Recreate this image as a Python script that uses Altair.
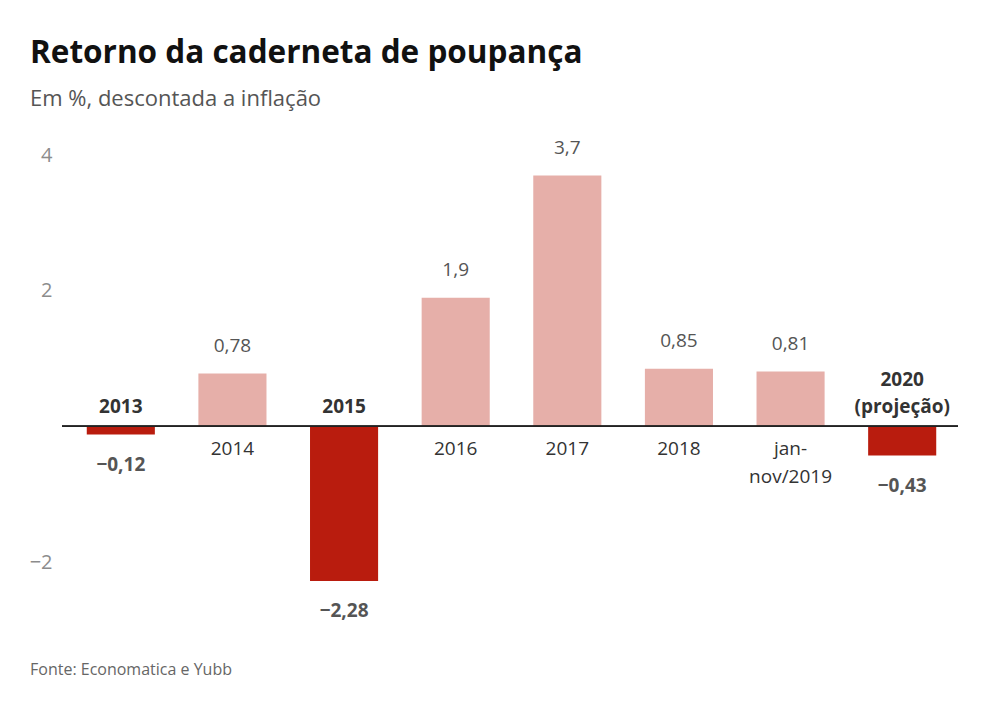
import altair as alt
import pandas as pd

# Real return of the savings account, % after inflation
categories = ["2013", "2014", "2015", "2016", "2017", "2018", "jan-nov/2019", "2020 (projeção)"]
category_lines = [["2013"], ["2014"], ["2015"], ["2016"], ["2017"], ["2018"],
                  ["jan-", "nov/2019"], ["2020", "(projeção)"]]
values = [-0.12, 0.78, -2.28, 1.9, 3.7, 0.85, 0.81, -0.43]
y_ticks = [-2, 2, 4]

title_text = "Retorno da caderneta de poupança"
subtitle_text = "Em %, descontada a inflação"
source_text = "Fonte: Economatica e Yubb"


def br_number(v):
    return str(v).replace(".", ",").replace("-", "\u2212")


df = pd.DataFrame({
    "cat": categories,
    "value": values,
    "label": [br_number(v) for v in values],
    "zero": [0] * len(values),
})
df["sign"] = ["neg" if v < 0 else "pos" for v in values]

# One row per category-label line; k counts lines outward from the zero line
rows = []
for cat, lines, v in zip(categories, category_lines, values):
    ordered = list(reversed(lines)) if v < 0 else lines
    for k, line in enumerate(ordered):
        rows.append({"cat": cat, "line": line, "k": k, "zero": 0,
                     "sign": "neg" if v < 0 else "pos"})
lines_df = pd.DataFrame(rows)

FONT = "Open Sans"
PX_PER_UNIT = 67.8
Y_MIN, Y_MAX = -2.8, 4.2
W = 893
H = (Y_MAX - Y_MIN) * PX_PER_UNIT
TOP = 141.7

x_enc = alt.X("cat:N", sort=categories, axis=None,
              scale=alt.Scale(paddingInner=0.39, paddingOuter=0.195))
y_scale = alt.Scale(domain=[Y_MIN, Y_MAX], nice=False, zero=False)

base = alt.Chart(df).encode(x=x_enc)

bars = base.mark_bar().encode(
    y=alt.Y("value:Q", scale=y_scale,
            axis=alt.Axis(values=y_ticks, format="d", title=None, grid=False,
                          domain=False, ticks=False, labelPadding=13,
                          labelFontSize=20, labelColor="#8c8c8c", labelFont=FONT)),
    y2=alt.Y2("zero:Q"),
    color=alt.Color("sign:N", scale=alt.Scale(domain=["neg", "pos"],
                                               range=["#b91c0e", "#e6afa9"]),
                    legend=None),
)

zero_line = alt.Chart(df).mark_rule(color="#222222", strokeWidth=1.2).encode(
    x=alt.value(-3), x2=alt.value(W), y=alt.Y("zero:Q", scale=y_scale)
)

pos_values = base.transform_filter(alt.datum.value > 0).mark_text(
    font=FONT, fontSize=19, color="#555555", baseline="alphabetic", dy=-22
).encode(y=alt.Y("value:Q", scale=y_scale), text="label:N")

neg_values = base.transform_filter(alt.datum.value < 0).mark_text(
    font=FONT, fontSize=19, fontWeight="bold", color="#555555", baseline="top", dy=21
).encode(y=alt.Y("value:Q", scale=y_scale), text="label:N")

# Category names: below the zero line for gains, above it (bold) for losses
cat_layers = []
for k in range(2):
    cat_layers.append(
        alt.Chart(lines_df).transform_filter(
            (alt.datum.sign == "pos") & (alt.datum.k == k)
        ).mark_text(font=FONT, fontSize=19, color="#333333", baseline="top",
                    dy=14 + 28 * k).encode(
            x=x_enc, y=alt.Y("zero:Q", scale=y_scale), text="line:N")
    )
    cat_layers.append(
        alt.Chart(lines_df).transform_filter(
            (alt.datum.sign == "neg") & (alt.datum.k == k)
        ).mark_text(font=FONT, fontSize=19, fontWeight="bold", color="#333333",
                    baseline="alphabetic", dy=-13.5 - 27 * k).encode(
            x=x_enc, y=alt.Y("zero:Q", scale=y_scale), text="line:N")
    )

# Heading, subheading and source line placed relative to the plot origin
titles = pd.DataFrame({
    "t": [title_text, subtitle_text, source_text],
    "k": ["title", "subtitle", "source"],
})
title_mark = alt.Chart(titles).transform_filter(alt.datum.k == "title").mark_text(
    font=FONT, fontSize=31.5, fontWeight="bold", color="#111111", align="left",
    baseline="alphabetic").encode(x=alt.value(-35), y=alt.value(63 - TOP), text="t:N")
subtitle_mark = alt.Chart(titles).transform_filter(alt.datum.k == "subtitle").mark_text(
    font=FONT, fontSize=22, color="#555555", align="left",
    baseline="alphabetic").encode(x=alt.value(-35), y=alt.value(106 - TOP), text="t:N")
source_mark = alt.Chart(titles).transform_filter(alt.datum.k == "source").mark_text(
    font=FONT, fontSize=16, color="#666666", align="left",
    baseline="alphabetic").encode(x=alt.value(-35), y=alt.value(675 - TOP), text="t:N")

chart = alt.layer(
    bars, zero_line, pos_values, neg_values, *cat_layers,
    title_mark, subtitle_mark, source_mark,
).properties(
    width=W, height=H,
    background="white",
    autosize=alt.AutoSizeParams(type="none"),
    padding={"left": 65, "top": TOP, "right": 1000 - 65 - W, "bottom": 722 - TOP - H},
).configure_view(strokeWidth=0, stroke="transparent")

chart.save("out.html", embed_options={"renderer": "svg", "actions": False})
